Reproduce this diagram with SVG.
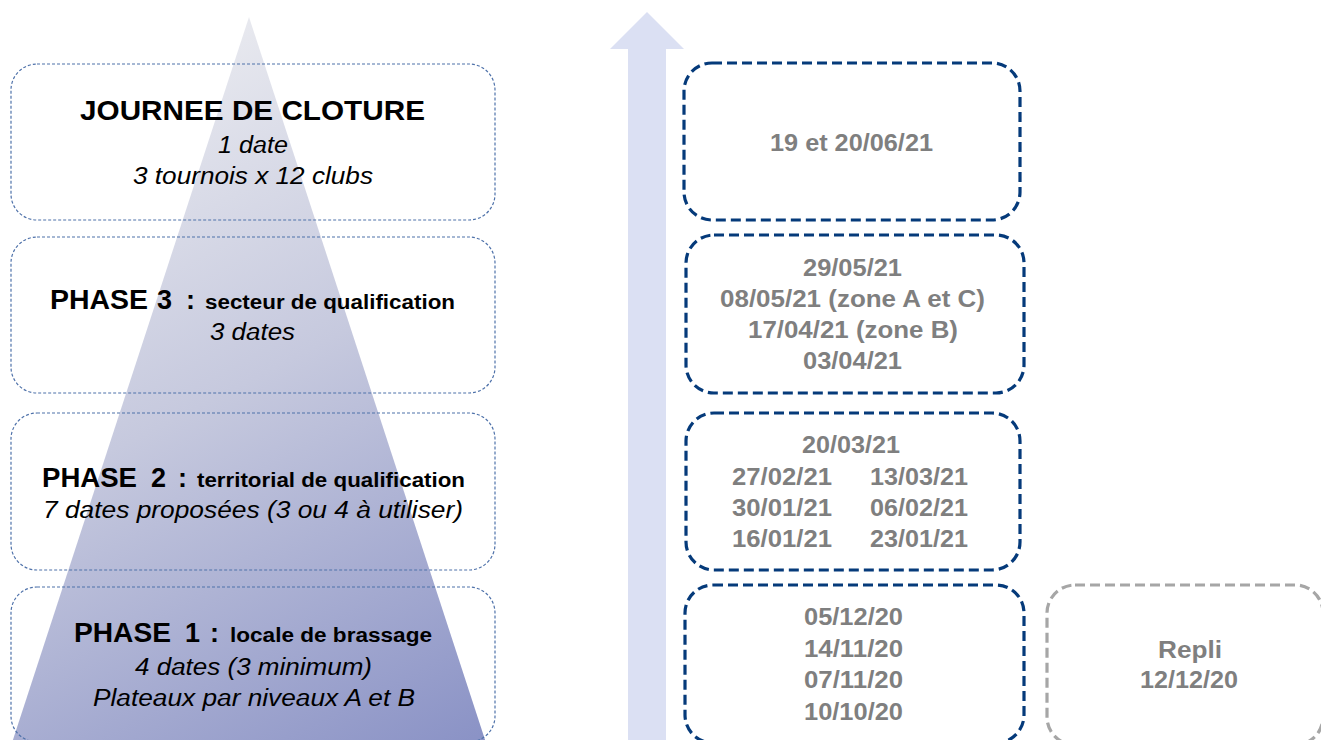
<svg xmlns="http://www.w3.org/2000/svg" width="1321" height="740" viewBox="0 0 1321 740">
<defs>
<linearGradient id="pyr" gradientUnits="userSpaceOnUse" x1="120" y1="60" x2="470" y2="740">
<stop offset="0" stop-color="#eaebf0"/>
<stop offset="0.45" stop-color="#c6c9de"/>
<stop offset="1" stop-color="#8b93c6"/>
</linearGradient>
<style>
.lbox{fill:none;stroke:#4f72aa;stroke-width:1.2;stroke-dasharray:3 2}
.rbox{fill:none;stroke:#053a7a;stroke-width:3.2;stroke-dasharray:10 5}
.gbox{fill:none;stroke:#a6a6a6;stroke-width:3.2;stroke-dasharray:10 5}
.h{font-family:"Liberation Sans",Arial,sans-serif;font-weight:bold;fill:#000}
.it{font-family:"Liberation Sans",Arial,sans-serif;font-style:italic;font-size:23px;fill:#000}
.d{font-family:"Liberation Sans",Arial,sans-serif;font-weight:bold;font-size:24px;fill:#7f7f7f}
</style>
</defs>
<rect width="1321" height="740" fill="#ffffff"/>
<polygon id="pyramid" points="249,17 490,755 8,755" fill="url(#pyr)"/>
<polygon id="arrow" points="647,12 684,49 666,49 666,745 628,745 628,49 610,49" fill="#dbe0f3"/>

<g id="closing">
<rect class="lbox" x="11" y="64" width="484" height="156" rx="26"/>
<text class="h" font-size="28" x="80" y="120" textLength="345" lengthAdjust="spacingAndGlyphs">JOURNEE  DE CLOTURE</text>
<text class="it" x="218" y="153" textLength="70" lengthAdjust="spacingAndGlyphs">1 date</text>
<text class="it" x="133" y="184" textLength="240" lengthAdjust="spacingAndGlyphs">3 tournois x 12 clubs</text>
</g>

<g id="phase3">
<rect class="lbox" x="11" y="237" width="484" height="156" rx="26"/>
<text class="h" y="309"><tspan x="50" font-size="27" textLength="98" lengthAdjust="spacingAndGlyphs">PHASE</tspan><tspan x="157" font-size="27">3</tspan><tspan x="186" font-size="27">:</tspan><tspan x="205" font-size="20" textLength="250" lengthAdjust="spacingAndGlyphs">secteur de qualification</tspan></text>
<text class="it" x="210" y="340" textLength="85" lengthAdjust="spacingAndGlyphs">3 dates</text>
</g>

<g id="phase2">
<rect class="lbox" x="11" y="413" width="484" height="157" rx="26"/>
<text class="h" y="487"><tspan x="42" font-size="27" textLength="95" lengthAdjust="spacingAndGlyphs">PHASE</tspan><tspan x="151" font-size="27">2</tspan><tspan x="178" font-size="27">:</tspan><tspan x="197" font-size="20" textLength="268" lengthAdjust="spacingAndGlyphs">territorial de qualification</tspan></text>
<text class="it" x="43" y="518" textLength="420" lengthAdjust="spacingAndGlyphs">7 dates proposées (3 ou 4 à utiliser)</text>
</g>

<g id="phase1">
<rect class="lbox" x="11" y="587" width="484" height="155" rx="26"/>
<text class="h" y="642"><tspan x="74" font-size="27" textLength="97" lengthAdjust="spacingAndGlyphs">PHASE</tspan><tspan x="185" font-size="27">1</tspan><tspan x="210" font-size="27">:</tspan><tspan x="230" font-size="20" textLength="202" lengthAdjust="spacingAndGlyphs">locale de brassage</tspan></text>
<text class="it" x="135" y="675" textLength="237" lengthAdjust="spacingAndGlyphs">4 dates (3 minimum)</text>
<text class="it" x="93" y="706" textLength="322" lengthAdjust="spacingAndGlyphs">Plateaux par niveaux A et B</text>
</g>

<g id="dates-closing">
<rect class="rbox" x="684" y="63" width="336" height="157" rx="28"/>
<text class="d" x="770" y="151" textLength="163" lengthAdjust="spacingAndGlyphs">19 et 20/06/21</text>
</g>

<g id="dates-phase3">
<rect class="rbox" x="686" y="235" width="338" height="158" rx="28"/>
<text class="d" x="803" y="276" textLength="99" lengthAdjust="spacingAndGlyphs">29/05/21</text>
<text class="d" x="720" y="307" textLength="265" lengthAdjust="spacingAndGlyphs">08/05/21 (zone A et C)</text>
<text class="d" x="748" y="338" textLength="210" lengthAdjust="spacingAndGlyphs">17/04/21 (zone B)</text>
<text class="d" x="803" y="369" textLength="99" lengthAdjust="spacingAndGlyphs">03/04/21</text>
</g>

<g id="dates-phase2">
<rect class="rbox" x="686" y="413" width="334" height="157" rx="28"/>
<text class="d" x="802" y="453" textLength="98" lengthAdjust="spacingAndGlyphs">20/03/21</text>
<text class="d" x="732" y="485" textLength="100" lengthAdjust="spacingAndGlyphs">27/02/21</text>
<text class="d" x="870" y="485" textLength="98" lengthAdjust="spacingAndGlyphs">13/03/21</text>
<text class="d" x="732" y="516" textLength="100" lengthAdjust="spacingAndGlyphs">30/01/21</text>
<text class="d" x="870" y="516" textLength="98" lengthAdjust="spacingAndGlyphs">06/02/21</text>
<text class="d" x="732" y="547" textLength="100" lengthAdjust="spacingAndGlyphs">16/01/21</text>
<text class="d" x="870" y="547" textLength="98" lengthAdjust="spacingAndGlyphs">23/01/21</text>
</g>

<g id="dates-phase1">
<rect class="rbox" x="685" y="585" width="339" height="158" rx="28"/>
<text class="d" x="804" y="625" textLength="99" lengthAdjust="spacingAndGlyphs">05/12/20</text>
<text class="d" x="804" y="657" textLength="99" lengthAdjust="spacingAndGlyphs">14/11/20</text>
<text class="d" x="804" y="688" textLength="99" lengthAdjust="spacingAndGlyphs">07/11/20</text>
<text class="d" x="804" y="720" textLength="99" lengthAdjust="spacingAndGlyphs">10/10/20</text>
</g>

<g id="repli">
<rect class="gbox" x="1047" y="585" width="276" height="160" rx="28"/>
<text class="d" x="1158" y="658" textLength="64" lengthAdjust="spacingAndGlyphs">Repli</text>
<text class="d" x="1140" y="688" textLength="98" lengthAdjust="spacingAndGlyphs">12/12/20</text>
</g>

<g id="connectors"></g>
</svg>
